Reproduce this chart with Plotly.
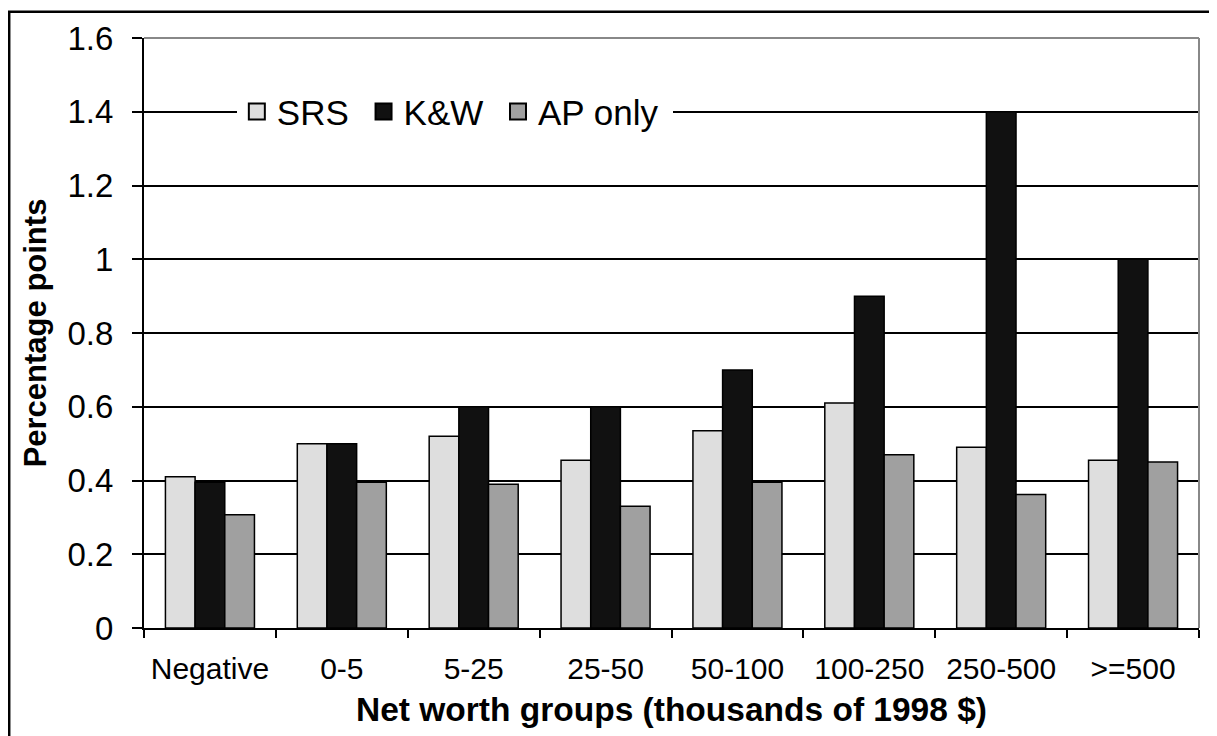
import plotly.graph_objects as go

categories = ["Negative", "0-5", "5-25", "25-50", "50-100", "100-250", "250-500", ">=500"]
srs = [0.41, 0.50, 0.52, 0.455, 0.535, 0.61, 0.49, 0.455]
kw = [0.395, 0.50, 0.60, 0.60, 0.70, 0.90, 1.40, 1.00]
ap_only = [0.307, 0.395, 0.39, 0.33, 0.395, 0.47, 0.362, 0.45]
series_names = ["SRS", "K&W", "AP only"]
series_colors = ["#DEDEDE", "#111111", "#A0A0A0"]
legend_pad = ["\u00a0", "\u00a0", "\u00a0"]

W, H = 1217, 736
L, R, T, B = 136, 26, 27, 116

fig = go.Figure()
for name, vals, col in zip(series_names, [srs, kw, ap_only], series_colors):
    fig.add_trace(go.Bar(x=categories, y=vals, name=name, showlegend=False,
                         marker=dict(color=col, line=dict(color="black", width=1.5))))
# legend proxies (square swatches like the original)
for name, col, pad in zip(series_names, series_colors, legend_pad):
    fig.add_trace(go.Scatter(x=[categories[0]], y=[None], mode="markers", name=name + pad,
                             marker=dict(symbol="square", size=20, color=col,
                                         line=dict(color="black", width=2))))

font = "Liberation Sans, Arial, sans-serif"
fig.update_layout(
    width=W, height=H,
    margin=dict(l=L, r=R, t=T, b=B),
    paper_bgcolor="white", plot_bgcolor="white",
    barmode="group", bargap=0.325, bargroupgap=0,
    font=dict(family=font, color="black"),
    showlegend=True,
    legend=dict(orientation="h", x=0.088, xanchor="left", y=0.875, yanchor="middle",
                bgcolor="white", font=dict(size=35, family=font),
                traceorder="normal", itemwidth=30, tracegroupgap=0),
    xaxis=dict(type="category", tickson="boundaries", ticks="outside", ticklen=8, tickwidth=2,
               tickcolor="black", showline=True, linecolor="black", linewidth=2,
               tickfont=dict(size=30), showgrid=False, ticklabelstandoff=13,
               title=dict(text="<b>Net worth groups (thousands of 1998 $)</b>", font=dict(size=33.5), standoff=14)),
    yaxis=dict(range=[0, 1.6], tickvals=[0, 0.2, 0.4, 0.6, 0.8, 1.0, 1.2, 1.4, 1.6],
               ticktext=["0", "0.2", "0.4", "0.6", "0.8", "1", "1.2", "1.4", "1.6"],
               ticks="outside", ticklen=10, tickwidth=2, tickcolor="black",
               showline=True, linecolor="black", linewidth=2, ticklabelstandoff=12,
               showgrid=True, gridcolor="black", gridwidth=1.5, zeroline=False,
               tickfont=dict(size=33),
               title=dict(text="<b>Percentage points</b>", font=dict(size=31), standoff=12)),
)

pw, ph = W - L - R, H - T - B
def px_x(p):
    return (p - L) / pw
def px_y(p):
    return (H - B - p) / ph

shapes = [
    dict(type="line", xref="paper", yref="paper", x0=0, x1=1, y0=1, y1=1, line=dict(color="#888888", width=2)),
    dict(type="line", xref="paper", yref="paper", x0=1, x1=1, y0=0, y1=1, line=dict(color="#888888", width=2)),
    dict(type="rect", xref="paper", yref="paper", x0=px_x(1.2), x1=px_x(W + 4), y0=px_y(0.5), y1=px_y(H + 4),
         line=dict(color="black", width=2.5), fillcolor="rgba(0,0,0,0)", layer="above"),
]
fig.update_layout(shapes=shapes)

fig.write_html("out.html")
